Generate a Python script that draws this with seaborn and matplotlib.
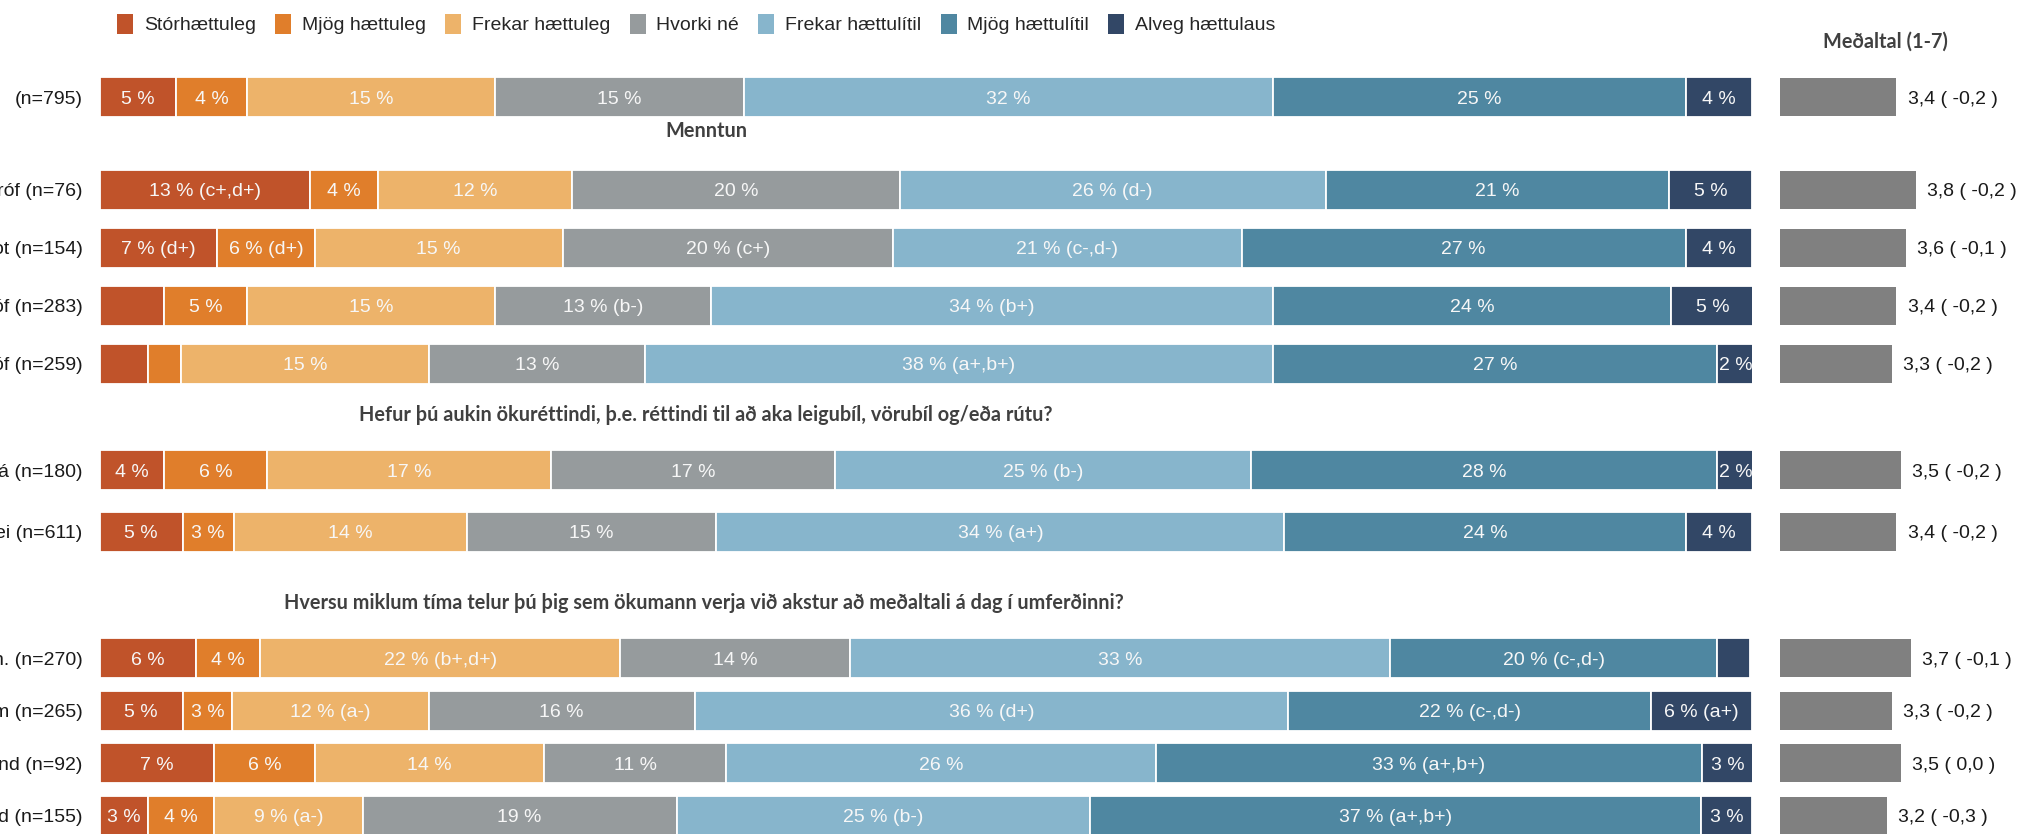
import numpy as np
import pandas as pd
import matplotlib
matplotlib.use('Agg')
import matplotlib.pyplot as plt
import seaborn as sns
from matplotlib.patches import Patch

# ------------------------------------------------------------------
# Gögn
# ------------------------------------------------------------------
categories = ['Stórhættuleg', 'Mjög hættuleg', 'Frekar hættuleg', 'Hvorki né',
              'Frekar hættulítil', 'Mjög hættulítil', 'Alveg hættulaus']
colors = ['#C0532A', '#E07E2B', '#EDB36A', '#969B9D',
          '#87B5CC', '#4F87A1', '#324766']

row_labels = ['(n=795)',
              'róf (n=76)', 'ot (n=154)', 'óf (n=283)', 'óf (n=259)',
              'á (n=180)', 'ei (n=611)',
              'n. (n=270)', 'm (n=265)', 'nd (n=92)', 'd (n=155)']
group_sizes = [1, 4, 2, 4]
group_titles = ['',
                'Menntun',
                'Hefur þú aukin ökuréttindi, þ.e. réttindi til að aka leigubíl, vörubíl og/eða rútu?',
                'Hversu miklum tíma telur þú þig sem ökumann verja við akstur að meðaltali á dag í umferðinni?']

# hlutfall (%) í hverjum flokki, ein tala á línu
stor = [4.6, 12.7, 7.1, 3.9, 2.9, 3.9, 5.0, 5.8, 5.0, 6.9, 2.9]
mjog = [4.3, 4.1, 5.9, 5.0, 2.0, 6.2, 3.1, 3.9, 3.0, 6.1, 4.0]
frekar_h = [15.0, 11.8, 15.0, 15.0, 15.0, 17.2, 14.1, 21.8, 11.9, 13.9, 9.0]
hvorki = [15.1, 19.8, 20.0, 13.1, 13.1, 17.2, 15.1, 13.9, 16.1, 11.0, 19.0]
frekar_hl = [32.0, 25.8, 21.1, 34.0, 38.0, 25.2, 34.4, 32.7, 35.9, 26.0, 25.0]
mjog_hl = [25.0, 20.8, 26.9, 24.1, 26.9, 28.2, 24.3, 19.8, 22.0, 33.1, 37.0]
alveg = [4.0, 5.0, 4.0, 5.0, 2.2, 2.2, 4.0, 2.0, 6.1, 3.1, 3.1]

# merkingar inni í súlunum ('' = engin merking)
stor_txt = ['5 %', '13 % (c+,d+)', '7 % (d+)', '', '', '4 %', '5 %', '6 %', '5 %', '7 %', '3 %']
mjog_txt = ['4 %', '4 %', '6 % (d+)', '5 %', '', '6 %', '3 %', '4 %', '3 %', '6 %', '4 %']
frekar_h_txt = ['15 %', '12 %', '15 %', '15 %', '15 %', '17 %', '14 %',
                '22 % (b+,d+)', '12 % (a-)', '14 %', '9 % (a-)']
hvorki_txt = ['15 %', '20 %', '20 % (c+)', '13 % (b-)', '13 %', '17 %', '15 %',
              '14 %', '16 %', '11 %', '19 %']
frekar_hl_txt = ['32 %', '26 % (d-)', '21 % (c-,d-)', '34 % (b+)', '38 % (a+,b+)',
                 '25 % (b-)', '34 % (a+)', '33 %', '36 % (d+)', '26 %', '25 % (b-)']
mjog_hl_txt = ['25 %', '21 %', '27 %', '24 %', '27 %', '28 %', '24 %',
               '20 % (c-,d-)', '22 % (c-,d-)', '33 % (a+,b+)', '37 % (a+,b+)']
alveg_txt = ['4 %', '5 %', '4 %', '5 %', '2 %', '2 %', '4 %', '', '6 % (a+)', '3 %', '3 %']

means = [3.4, 3.8, 3.6, 3.4, 3.3, 3.5, 3.4, 3.7, 3.3, 3.5, 3.2]
mean_labels = ['3,4 ( -0,2 )', '3,8 ( -0,2 )', '3,6 ( -0,1 )', '3,4 ( -0,2 )', '3,3 ( -0,2 )',
               '3,5 ( -0,2 )', '3,4 ( -0,2 )', '3,7 ( -0,1 )', '3,3 ( -0,2 )', '3,5 ( 0,0 )',
               '3,2 ( -0,3 )']

pct = [stor, mjog, frekar_h, hvorki, frekar_hl, mjog_hl, alveg]
txt = [stor_txt, mjog_txt, frekar_h_txt, hvorki_txt, frekar_hl_txt, mjog_hl_txt, alveg_txt]

# ------------------------------------------------------------------
# Útlit
# ------------------------------------------------------------------
sns.set_theme(style='white')
plt.rcParams['font.family'] = ['Liberation Sans', 'DejaVu Sans']
HEAD_FONT = ['Lato', 'DejaVu Sans']
FS = 14
HEAD_FS = 14.3

W, H = 2039, 834
BAR_X0, BAR_X1 = 100, 1752
MEAN_X0, PX_PER_UNIT = 1780, 48.5
BAR_H = 40
row_centers = [[97], [190, 248, 306, 364], [470, 532], [658, 710, 763, 816]]
title_pos = [None, (706, 131), (706, 415), (704, 603)]

fig = plt.figure(figsize=(W / 100, H / 100), dpi=100)


def px_axes(x0, x1, top, bottom):
    return fig.add_axes([x0 / W, 1 - bottom / H, (x1 - x0) / W, (bottom - top) / H])


start = 0
for g, n in enumerate(group_sizes):
    centers = row_centers[g]
    spacing = centers[1] - centers[0] if n > 1 else 58
    top, bottom = centers[0] - spacing / 2, centers[-1] + spacing / 2
    idx = slice(start, start + n)
    labels = row_labels[idx]

    # --- staflaðar súlur ---
    ax = px_axes(BAR_X0, BAR_X1, top, bottom)
    left = np.zeros(n)
    for k, cat in enumerate(categories):
        vals = np.array(pct[k][idx])
        df = pd.DataFrame({'row': labels, 'value': vals})
        sns.barplot(data=df, x='value', y='row', orient='h', left=left,
                    color=colors[k], saturation=1, width=BAR_H / spacing,
                    errorbar=None, edgecolor='white', linewidth=1.3, ax=ax)
        for i, (v, lab) in enumerate(zip(vals, txt[k][idx])):
            if lab:
                ax.text(left[i] + v / 2, i, lab, ha='center', va='center_baseline',
                        color='#F7F7F7', fontsize=FS)
        left = left + vals
    ax.set_xlim(0, 100)
    ax.set_xlabel('')
    ax.set_ylabel('')
    ax.set_xticks([])
    ax.tick_params(axis='y', length=0, pad=12.5, labelsize=FS, labelcolor='#1A1A1A')
    sns.despine(ax=ax, left=True, bottom=True)
    ax.patch.set_alpha(0)

    # --- meðaltöl ---
    axm = px_axes(MEAN_X0, W, top, bottom)
    dfm = pd.DataFrame({'row': labels, 'mean': means[idx]})
    sns.barplot(data=dfm, x='mean', y='row', orient='h', color='#808080',
                saturation=1, width=BAR_H / spacing * 0.95, errorbar=None,
                linewidth=0, ax=axm)
    for i, (m, lab) in enumerate(zip(means[idx], mean_labels[idx])):
        axm.annotate(lab, (m, i), xytext=(8, 0), textcoords='offset points',
                     ha='left', va='center_baseline', fontsize=FS, color='#1A1A1A',
                     annotation_clip=False)
    axm.set_xlim(1, 1 + (W - MEAN_X0) / PX_PER_UNIT)
    axm.set_xlabel('')
    axm.set_ylabel('')
    axm.set_xticks([])
    axm.set_yticks([])
    sns.despine(ax=axm, left=True, bottom=True)
    axm.patch.set_alpha(0)

    if group_titles[g]:
        tx, ty = title_pos[g]
        fig.text(tx / W, 1 - ty / H, group_titles[g], ha='center', va='center',
                 fontsize=HEAD_FS, fontweight='bold', color='#404040', family=HEAD_FONT)
    start += n

fig.text(1885 / W, 1 - 42 / H, 'Meðaltal (1-7)', ha='center', va='center',
         fontsize=HEAD_FS, fontweight='bold', color='#404040', family=HEAD_FONT)

handles = [Patch(facecolor=c, edgecolor='none') for c in colors]
fig.legend(handles, categories, loc='center left', bbox_to_anchor=(117 / W, 1 - 24 / H),
           ncol=7, frameon=False, fontsize=FS, handlelength=0.82, handleheight=1.23,
           handletextpad=0.55, columnspacing=1.0, borderpad=0, borderaxespad=0)

fig.savefig('out.png', dpi=100)
